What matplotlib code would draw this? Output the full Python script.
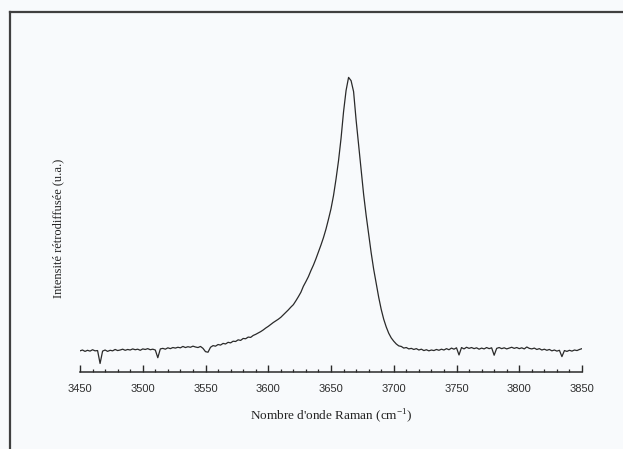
import matplotlib
matplotlib.use("Agg")
import matplotlib.pyplot as plt
import numpy as np
from matplotlib.ticker import MultipleLocator
from matplotlib.lines import Line2D

# Raman spectrum (wavenumber step 2 cm-1, intensity in a.u.)
wavenumber = np.arange(3450, 3851, 2)
intensity = [
    0.3, 0.6, 0.1, 0.5, 0.2, 0.7, 0.3, 0.4, -4.3, 0.2,      # 3450-3468
    0.6, 0.1, 0.5, 0.3, 0.8, 0.4, 0.6, 0.9, 0.5, 0.8,       # 3470-3488
    0.6, 1.0, 0.7, 0.9, 0.5, 1.0, 0.8, 1.1, 0.7, 0.9,       # 3490-3508
    0.6, -2.2, 1.0, 1.2, 0.9, 1.4, 1.1, 1.5, 1.3, 1.6,      # 3510-3528
    1.4, 1.9, 1.5, 1.8, 1.6, 2.0, 1.7, 1.5, 1.9, 1.2,       # 3530-3548
    0.0, -0.2, 1.6, 2.2, 2.0, 2.6, 2.4, 3.0, 2.8, 3.4,      # 3550-3568
    3.2, 3.8, 3.7, 4.3, 4.1, 4.8, 4.7, 5.3, 5.2, 5.9,       # 3570-3588
    6.3, 6.8, 7.3, 7.9, 8.6, 9.2, 9.9, 10.6, 11.2, 11.8,    # 3590-3608
    12.5, 13.4, 14.3, 15.2, 16.2, 17.1, 18.5, 20.0, 21.6, 23.8,   # 3610-3628
    25.5, 27.3, 29.5, 31.5, 33.8, 36.3, 38.8, 41.5, 44.6, 48.2,   # 3630-3648
    52.0, 56.8, 62.8, 69.5, 77.6, 87.3, 95.0, 99.8, 98.6, 94.6,   # 3650-3668
    84.3, 75.2, 65.8, 57.2, 49.6, 42.8, 36.0, 30.0, 24.8, 19.8,   # 3670-3688
    15.4, 11.8, 9.0, 6.7, 5.0, 3.8, 2.8, 2.1, 1.9, 1.3,     # 3690-3708
    1.5, 1.0, 1.2, 0.8, 1.1, 0.6, 0.9, 0.4, 0.7, 0.3,       # 3710-3728
    0.6, 0.4, 0.8, 0.5, 0.9, 0.6, 1.1, 0.7, 1.3, 0.9,       # 3730-3748
    1.4, -1.2, 1.5, 1.0, 1.6, 1.2, 1.5, 1.1, 1.4, 0.9,      # 3750-3768
    1.3, 1.0, 1.5, 1.1, 1.4, -1.3, 1.2, 1.5, 1.1, 1.4,      # 3770-3788
    1.0, 1.3, 1.6, 1.2, 1.5, 1.1, 1.4, 1.0, 1.7, 1.2,       # 3790-3808
    1.0, 1.3, 0.8, 1.1, 0.6, 0.9, 0.5, 0.8, 0.3, 0.6,       # 3810-3828
    0.2, 0.5, -1.8, 0.4, 0.1, 0.5, 0.2, 0.6, 0.4, 0.8,      # 3830-3848
    1.1,                                                    # 3850
]

xlabel = "Nombre d'onde Raman (cm$^{\\mathregular{-1}}$)"
ylabel = "Intensité rétrodiffusée (u.a.)"

W, H = 623, 449
bg = '#f8fafc'
fig = plt.figure(figsize=(W / 100, H / 100), dpi=100, facecolor=bg)

# page frame (only left and top edges show)
fig.add_artist(Line2D([9.5 / W, 9.5 / W], [0, 1 - 12 / H], color='#404040', lw=1.6))
fig.add_artist(Line2D([9.5 / W, 1], [1 - 12 / H, 1 - 12 / H], color='#404040', lw=1.6))

ax = fig.add_axes([80 / W, (H - 372) / H, 502 / W, (372 - 76) / H])
ax.set_facecolor(bg)
ax.plot(wavenumber, intensity, color='#2a2a2a', lw=0.9)

ax.set_xlim(3450, 3850)
ax.set_ylim(-7.4, 100.3)
for s in ['top', 'right', 'left']:
    ax.spines[s].set_visible(False)
ax.spines['bottom'].set_color('#2a2a2a')
ax.spines['bottom'].set_linewidth(1.1)
ax.set_yticks([])

ax.xaxis.set_major_locator(MultipleLocator(50))
ax.xaxis.set_minor_locator(MultipleLocator(10))
ax.tick_params(axis='x', which='major', direction='in', length=5, width=1.0,
               color='#2a2a2a', pad=9, labelsize=8, labelcolor='#2e2e2e')
ax.tick_params(axis='x', which='minor', direction='in', length=2.5, width=0.9,
               color='#2a2a2a')
for lab in ax.get_xticklabels():
    lab.set_family('Liberation Sans')

ax.set_xlabel(xlabel, family='Liberation Serif', fontsize=9.5, color='#222222', labelpad=9)
ax.set_ylabel(ylabel, family='Liberation Serif', fontsize=9, color='#222222')
ax.yaxis.set_label_coords((64 - 80) / 502, (372 - 228) / (372 - 76))

fig.savefig('out.png', dpi=100, facecolor=bg)
